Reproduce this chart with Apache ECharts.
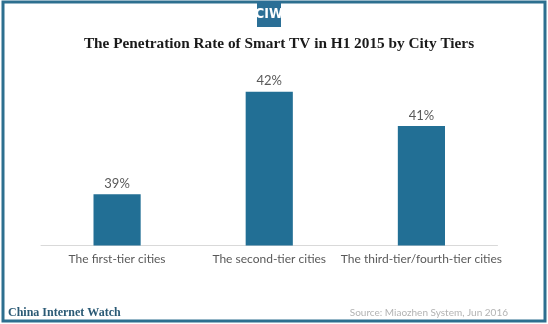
<!DOCTYPE html>
<html>
<head>
<meta charset="utf-8">
<script src="https://cdn.jsdelivr.net/npm/echarts@6/dist/echarts.min.js"></script>
<style>
  html, body { margin: 0; padding: 0; background: #fff; }
  #chart { width: 548px; height: 324px; }
</style>
</head>
<body>
<div id="chart"></div>
<script>
// Smart TV penetration rate by city tier, H1 2015
const categories = ['The first-tier cities', 'The second-tier cities', 'The third-tier/fourth-tier cities'];
const penetration = [39, 42, 41];

const chart = echarts.init(document.getElementById('chart'), null, { renderer: 'canvas' });

chart.setOption({
  backgroundColor: '#ffffff',
  animation: false,
  title: {
    text: 'The Penetration Rate of Smart TV in H1 2015 by City Tiers',
    left: 274,
    textAlign: 'center',
    top: 32,
    textStyle: {
      fontFamily: 'Liberation Serif',
      fontWeight: 'bold',
      fontSize: 15.3,
      color: '#1a1a1a'
    }
  },
  grid: { left: 41, right: 50.5, top: 91.7, bottom: 78.5 },
  xAxis: {
    type: 'category',
    data: categories,
    axisLine: { lineStyle: { color: '#d9d9d9', width: 1 } },
    axisTick: { show: false },
    axisLabel: {
      interval: 0,
      margin: 8,
      fontFamily: 'Lato',
      fontSize: 12,
      color: '#595959'
    }
  },
  yAxis: {
    type: 'value',
    min: 37.5,
    max: 42,
    show: false,
    splitLine: { show: false }
  },
  series: [{
    type: 'bar',
    data: penetration,
    barWidth: '31%',
    itemStyle: { color: '#226f95' },
    label: {
      show: true,
      position: 'top',
      distance: 4,
      formatter: p => p.value + '%',
      fontFamily: 'Lato',
      fontSize: 13,
      color: '#595959'
    }
  }],
  graphic: [
    {
      type: 'rect',
      shape: { x: 3, y: 2, width: 542, height: 319 },
      style: { fill: 'none', stroke: '#2d6f8f', lineWidth: 3 },
      silent: true
    },
    {
      type: 'rect',
      shape: { x: 257, y: 1, width: 24, height: 26 },
      style: { fill: '#2b6f96' },
      silent: true
    },
    {
      type: 'text',
      x: 269, y: 14,
      style: {
        text: 'CIW',
        fill: '#ffffff',
        font: 'bold 14px "Liberation Sans Narrow", "DejaVu Sans Condensed", sans-serif',
        align: 'center',
        verticalAlign: 'middle'
      },
      silent: true
    },
    {
      type: 'text',
      x: 8, y: 313,
      style: {
        text: 'China Internet Watch',
        fill: '#2b5a75',
        font: 'bold 12px "Liberation Serif", serif',
        align: 'left',
        verticalAlign: 'middle'
      },
      silent: true
    },
    {
      type: 'text',
      x: 508, y: 313,
      style: {
        text: 'Source: Miaozhen System, Jun 2016',
        fill: '#b3b3b3',
        font: '10px Lato, sans-serif',
        align: 'right',
        verticalAlign: 'middle'
      },
      silent: true
    }
  ]
});
</script>
</body>
</html>
